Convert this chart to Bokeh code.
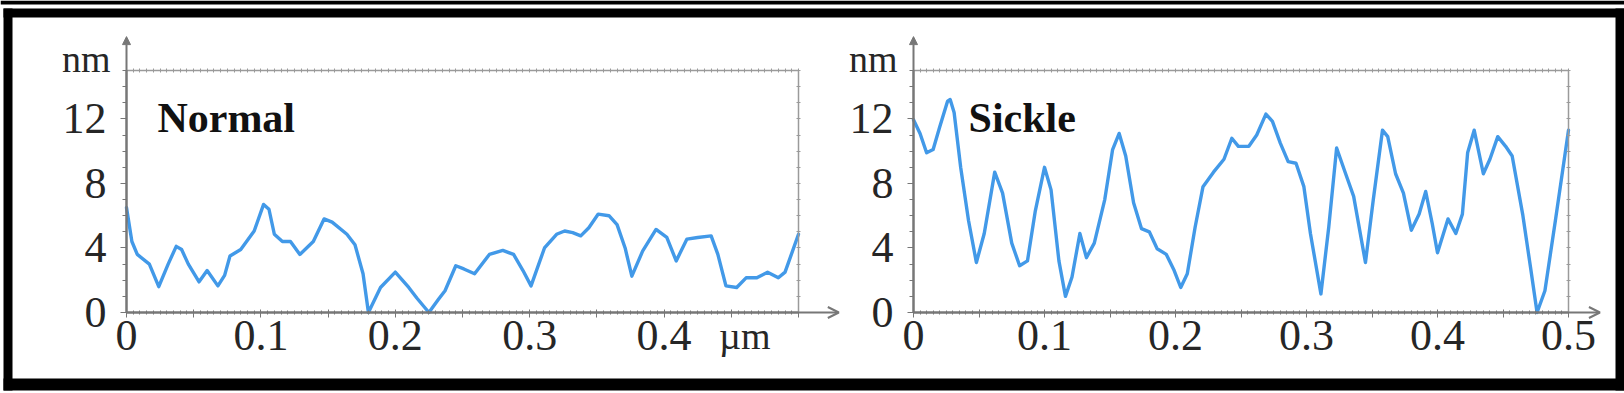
from bokeh.plotting import figure
from bokeh.models import (Range1d, LinearAxis, FixedTicker, Label, Arrow,
                          OpenHead, NormalHead, BoxAnnotation)
from bokeh.embed import file_html
from bokeh.resources import INLINE

# ---------------- data ----------------
normal_um = [0, 0.004, 0.008, 0.017, 0.024, 0.031, 0.037, 0.041, 0.046, 0.054,
             0.060, 0.068, 0.073, 0.077, 0.085, 0.095, 0.102, 0.106, 0.110, 0.116,
             0.122, 0.129, 0.139, 0.147, 0.153, 0.164, 0.170, 0.176, 0.180, 0.189,
             0.200, 0.210, 0.216, 0.225, 0.232, 0.237, 0.245, 0.251, 0.259, 0.270,
             0.280, 0.288, 0.295, 0.301, 0.311, 0.320, 0.326, 0.332, 0.338, 0.344,
             0.351, 0.359, 0.365, 0.371, 0.376, 0.384, 0.394, 0.402, 0.409, 0.417,
             0.425, 0.435, 0.440, 0.446, 0.454, 0.461, 0.469, 0.477, 0.485, 0.490,
             0.500]
normal_nm = [6.5, 4.4, 3.6, 3.0, 1.6, 3.0, 4.1, 3.9, 3.0, 1.9,
             2.6, 1.65, 2.3, 3.5, 3.9, 5.05, 6.7, 6.4, 4.85, 4.4,
             4.4, 3.6, 4.4, 5.8, 5.6, 4.85, 4.2, 2.4, 0.0, 1.55,
             2.5, 1.55, 0.9, 0.0, 0.8, 1.35, 2.9, 2.7, 2.4, 3.6,
             3.85, 3.6, 2.6, 1.65, 4.0, 4.85, 5.05, 4.95, 4.75, 5.25,
             6.1, 6.0, 5.45, 4.0, 2.25, 3.8, 5.15, 4.65, 3.2, 4.55,
             4.65, 4.75, 3.6, 1.65, 1.55, 2.15, 2.15, 2.5, 2.15, 2.5,
             4.85]

sickle_um = [0, 0.005, 0.010, 0.015, 0.020, 0.026, 0.028, 0.031, 0.036, 0.042,
             0.048, 0.054, 0.062, 0.068, 0.075, 0.081, 0.087, 0.093, 0.100, 0.105,
             0.111, 0.116, 0.121, 0.127, 0.132, 0.138, 0.146, 0.152, 0.157, 0.162,
             0.168, 0.174, 0.180, 0.186, 0.193, 0.199, 0.204, 0.209, 0.215, 0.221,
             0.229, 0.237, 0.243, 0.248, 0.256, 0.262, 0.269, 0.274, 0.280, 0.286,
             0.292, 0.298, 0.303, 0.311, 0.317, 0.323, 0.329, 0.336, 0.345, 0.351,
             0.358, 0.362, 0.368, 0.374, 0.380, 0.386, 0.391, 0.396, 0.400, 0.408,
             0.414, 0.419, 0.423, 0.428, 0.435, 0.440, 0.446, 0.452, 0.457, 0.465,
             0.471, 0.476, 0.482, 0.490, 0.500]
sickle_nm = [11.95, 11.1, 9.9, 10.1, 11.5, 13.1, 13.2, 12.4, 9.0, 5.7,
             3.1, 4.9, 8.7, 7.4, 4.3, 2.9, 3.2, 6.3, 9.0, 7.6,
             3.2, 1.0, 2.2, 4.9, 3.4, 4.3, 7.0, 10.1, 11.1, 9.7,
             6.8, 5.2, 5.0, 3.95, 3.6, 2.6, 1.55, 2.4, 5.3, 7.8,
             8.7, 9.5, 10.8, 10.3, 10.3, 11.0, 12.3, 11.85, 10.5, 9.35,
             9.25, 7.8, 4.9, 1.15, 5.3, 10.2, 8.8, 7.2, 3.1, 7.0,
             11.3, 10.9, 8.6, 7.4, 5.1, 6.1, 7.5, 5.5, 3.7, 5.8,
             4.9, 6.1, 9.9, 11.3, 8.6, 9.5, 10.9, 10.3, 9.7, 6.1,
             2.8, 0.0, 1.35, 5.7, 11.3]

x_major = [round(i * 0.05, 2) for i in range(11)]
x_minor = [round(i * 0.005, 3) for i in range(101)]
x_labels_left = {0: "0", 0.1: "0.1", 0.2: "0.2", 0.3: "0.3", 0.4: "0.4"}
x_labels_right = {0: "0", 0.1: "0.1", 0.2: "0.2", 0.3: "0.3", 0.4: "0.4", 0.5: "0.5"}
y_major = [0, 4, 8, 12]
y_minor = list(range(16))
X_MAX = 0.5
Y_MAX = 15

SERIF = "Liberation Serif"
LINE = "#4299e8"
AX = "#777777"
FRAME = "#9a9a9a"
TXT = "#262626"

W, H = 1624, 393
Y0_PX = 312          # pixel row of y = 0
TOP_PX = 70          # pixel row of y = Y_MAX

# pixel columns of the two plotting boxes (layout)
LEFT_BOX = (126, 798)
RIGHT_BOX = (913, 1568)


def x_range_for(box):
    s = (box[1] - box[0]) / X_MAX
    return Range1d(-box[0] / s, (W - box[0]) / s)


sy = (Y0_PX - TOP_PX) / Y_MAX
p = figure(width=W, height=H, x_range=x_range_for(LEFT_BOX),
           y_range=Range1d(-(H - Y0_PX) / sy, Y0_PX / sy),
           output_backend="svg", toolbar_location=None,
           x_axis_location=None, y_axis_location=None, min_border=0)
p.extra_x_ranges = {"right": x_range_for(RIGHT_BOX)}
p.grid.visible = False
p.outline_line_color = None
p.background_fill_color = "white"
p.border_fill_color = "white"


def panel(rn, xs, ys, title, title_x, labels, arrow_end, unit_label):
    overrides = {v: labels.get(v, "") for v in x_major}
    xb = LinearAxis(x_range_name=rn,
                    ticker=FixedTicker(ticks=x_major, minor_ticks=x_minor),
                    major_label_overrides=overrides, fixed_location=0, bounds=(0, X_MAX),
                    axis_line_color=AX, axis_line_width=2,
                    major_tick_line_color=AX, minor_tick_line_color=AX,
                    major_tick_in=3, major_tick_out=5, minor_tick_in=2, minor_tick_out=2,
                    major_label_standoff=3,
                    major_label_text_font=SERIF, major_label_text_font_size="44px",
                    major_label_text_color=TXT)
    p.add_layout(xb, "below")

    yl = LinearAxis(x_range_name=rn,
                    ticker=FixedTicker(ticks=y_major, minor_ticks=y_minor),
                    fixed_location=0, bounds=(0, Y_MAX),
                    axis_line_color=AX, axis_line_width=2,
                    major_tick_line_color=AX, minor_tick_line_color=AX,
                    major_tick_in=0, major_tick_out=6, minor_tick_in=0, minor_tick_out=4,
                    major_label_standoff=14,
                    major_label_text_font=SERIF, major_label_text_font_size="44px",
                    major_label_text_color=TXT)
    p.add_layout(yl, "left")

    xt = LinearAxis(x_range_name=rn,
                    ticker=FixedTicker(ticks=[], minor_ticks=x_minor),
                    fixed_location=Y_MAX, bounds=(0, X_MAX),
                    axis_line_color=FRAME, axis_line_width=1.5,
                    minor_tick_line_color=FRAME, minor_tick_in=2, minor_tick_out=2)
    p.add_layout(xt, "above")
    yrt = LinearAxis(x_range_name=rn,
                     ticker=FixedTicker(ticks=[], minor_ticks=y_minor),
                     fixed_location=X_MAX, bounds=(0, Y_MAX),
                     axis_line_color=FRAME, axis_line_width=1.5,
                     minor_tick_line_color=FRAME, minor_tick_in=2, minor_tick_out=2)
    p.add_layout(yrt, "right")

    p.add_layout(Arrow(x_range_name=rn, x_start=0, y_start=0, x_end=0, y_end=17.1,
                       line_color=AX, line_width=2,
                       end=NormalHead(size=8, fill_color=AX, line_color=AX)))
    p.add_layout(Arrow(x_range_name=rn, x_start=0, y_start=0, x_end=arrow_end, y_end=0,
                       line_color=AX, line_width=2,
                       end=OpenHead(size=11, line_color=AX, line_width=2)))

    p.line(xs, ys, x_range_name=rn, line_color=LINE, line_width=3.4,
           line_join="round", line_cap="round")

    p.add_layout(Label(x_range_name=rn, x=0, y=15.7, x_offset=-16, text="nm",
                       text_align="right", text_baseline="middle", text_font=SERIF,
                       text_font_size="38px", text_color=TXT))
    p.add_layout(Label(x_range_name=rn, x=title_x, y=12.06, text=title, text_align="left",
                       text_baseline="alphabetic", text_font=SERIF, text_font_style="bold",
                       text_font_size="42px", text_color="#111111"))
    if unit_label:
        p.add_layout(Label(x_range_name=rn, x=0.46, y=0, y_offset=-23, text=unit_label,
                           text_align="center", text_baseline="alphabetic",
                           text_font=SERIF, text_font_size="38px", text_color=TXT))


panel("default", normal_um, normal_nm, "Normal", 0.023, x_labels_left, 0.53, "µm")
panel("right", sickle_um, sickle_nm, "Sickle", 0.042, x_labels_right, 0.524, None)


# black outer frame of the picture (canvas units)
def band(l, r, t, b):
    p.add_layout(BoxAnnotation(left=l, right=r, top=t, bottom=b,
                               left_units="canvas", right_units="canvas",
                               top_units="canvas", bottom_units="canvas",
                               fill_color="black", fill_alpha=1.0, line_color=None))


band(0, W, 0, 4)
band(3, W, 8, 17)
band(3, W, 378, 390)
band(3, 12, 8, 390)
band(W - 9, W, 8, 390)

open("out.html", "w").write(file_html(p, INLINE))
